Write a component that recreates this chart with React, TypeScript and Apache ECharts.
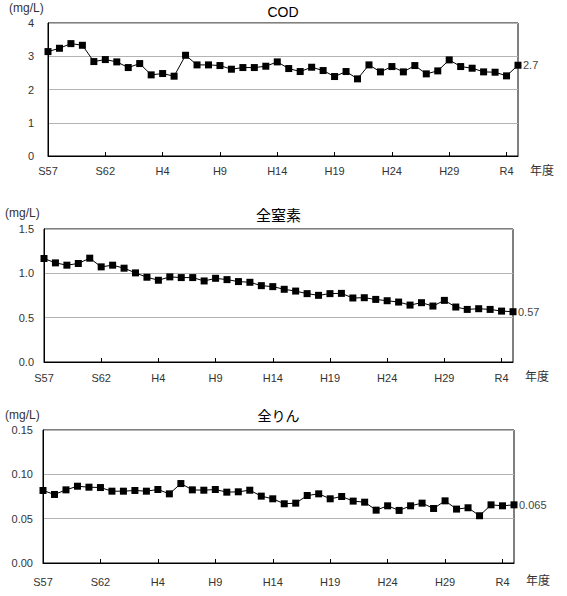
import React, { useEffect, useRef } from "react";
import * as echarts from "echarts";

const years = [
  "S57", "S58", "S59", "S60", "S61", "S62", "S63",
  "H1", "H2", "H3", "H4", "H5", "H6", "H7", "H8", "H9", "H10",
  "H11", "H12", "H13", "H14", "H15", "H16", "H17", "H18", "H19", "H20",
  "H21", "H22", "H23", "H24", "H25", "H26", "H27", "H28", "H29", "H30",
  "R1", "R2", "R3", "R4", "R5",
];

const codValues = [
  3.14, 3.24, 3.38, 3.33, 2.84, 2.9, 2.83, 2.66, 2.78, 2.44, 2.48, 2.4, 3.03, 2.74,
  2.74, 2.72, 2.61, 2.66, 2.66, 2.7, 2.83, 2.63, 2.54, 2.67, 2.57, 2.39, 2.54, 2.32,
  2.74, 2.53, 2.69, 2.53, 2.72, 2.47, 2.56, 2.89, 2.69, 2.64, 2.53, 2.52, 2.41, 2.73,
];

const tnValues = [
  1.167, 1.118, 1.092, 1.111, 1.171, 1.073, 1.092, 1.058, 1.005, 0.956, 0.922, 0.96,
  0.952, 0.952, 0.914, 0.944, 0.929, 0.907, 0.899, 0.861, 0.85, 0.82, 0.8, 0.771,
  0.752, 0.771, 0.774, 0.722, 0.725, 0.706, 0.691, 0.676, 0.642, 0.669, 0.631, 0.695,
  0.62, 0.593, 0.601, 0.593, 0.574, 0.567,
];

const tpValues = [
  0.0818, 0.0773, 0.0825, 0.0866, 0.0855, 0.0851, 0.081, 0.081, 0.0818, 0.081, 0.0829,
  0.078, 0.0896, 0.0825, 0.0821, 0.0829, 0.0799, 0.0803, 0.0821, 0.0754, 0.0724,
  0.0668, 0.0675, 0.0761, 0.078, 0.0724, 0.075, 0.0698, 0.0686, 0.0596, 0.0645,
  0.0593, 0.0645, 0.0675, 0.0615, 0.0701, 0.0608, 0.0623, 0.0533, 0.0656, 0.0645,
  0.0656,
];

const titles = ["COD", "全窒素", "全りん"];
const endLabels = ["2.7", "0.57", "0.065"];
const unitLabel = "(mg/L)";
const xAxisName = "年度";

const yMax = [4, 1.5, 0.15];
const yInterval = [1, 0.5, 0.05];
const yDecimals = [0, 1, 2];

const FONT = "'Liberation Sans', 'Noto Sans CJK JP', sans-serif";

export default function App() {
  const ref = useRef<HTMLDivElement>(null);

  useEffect(() => {
    document.body.style.margin = "0";
    if (!ref.current) return;
    const chart = echarts.init(ref.current, null, { renderer: "svg" });

    const grids = [
      { left: 48, right: 49, top: 23, height: 133 },
      { left: 44, right: 54, top: 229, height: 133 },
      { left: 43, right: 53, top: 430, height: 133 },
    ];
    const seriesValues = [codValues, tnValues, tpValues];

    const option: any = {
      animation: false,
      backgroundColor: "#fff",
      textStyle: { fontFamily: FONT },
      title: grids.map((g, i) => ({
        text: titles[i],
        left: g.left + (567 - g.left - g.right) / 2,
        textAlign: "center",
        top: g.top - [18, 21, 21][i],
        padding: 0,
        textStyle: { fontFamily: FONT, fontSize: [14, 15, 14][i], fontWeight: "normal", color: "#000" },
      })),
      grid: grids.map((g) => ({
        ...g,
        show: true,
        borderColor: "#000",
        borderWidth: 1,
        backgroundColor: "transparent",
      })),
      xAxis: grids.map((g, i) => ({
        type: "category",
        gridIndex: i,
        data: years,
        boundaryGap: false,
        axisLine: { lineStyle: { color: "#000", width: 1 } },
        axisTick: { show: true, inside: true, interval: 4, length: 4, lineStyle: { color: "#000" } },
        axisLabel: {
          interval: 4,
          color: "#333",
          fontSize: 11,
          margin: [9, 10, 13][i],
          fontFamily: FONT,
        },
        splitLine: { show: false },
      })),
      yAxis: grids.map((g, i) => ({
        type: "value",
        gridIndex: i,
        min: 0,
        max: yMax[i],
        interval: yInterval[i],
        axisLine: { show: true, lineStyle: { color: "#000", width: 1 } },
        axisTick: { show: false },
        axisLabel: {
          color: "#333",
          fontSize: 11,
          margin: i === 0 ? 14 : 10,
          fontFamily: FONT,
          formatter: (v: number) => v.toFixed(yDecimals[i]),
        },
        splitLine: { show: true, lineStyle: { color: "#b4b4b4", width: 1 } },
      })),
      series: seriesValues.map((vals, i) => ({
        type: "line",
        xAxisIndex: i,
        yAxisIndex: i,
        data: vals,
        symbol: "rect",
        symbolSize: 7,
        lineStyle: { color: "#000", width: 1 },
        itemStyle: { color: "#000" },
        endLabel: {
          show: true,
          formatter: () => endLabels[i],
          color: "#444",
          fontSize: 11,
          distance: 5,
          fontFamily: FONT,
        },
      })),
      graphic: [
        ...grids.map((g, i) => ({
          type: "text",
          left: [9, 5, 5][i],
          top: g.top - [21, 22, 21][i],
          style: { text: unitLabel, fill: "#333", font: `12px ${FONT}` },
        })),
        ...grids.map((g, i) => ({
          type: "text",
          left: 567 - g.right + 12,
          top: g.top + g.height + [9, 9, 12][i],
          style: { text: xAxisName, fill: "#333", font: `12px ${FONT}` },
        })),
      ],
    };

    chart.setOption(option);
    return () => chart.dispose();
  }, []);

  return <div ref={ref} style={{ width: 567, height: 596 }} />;
}
